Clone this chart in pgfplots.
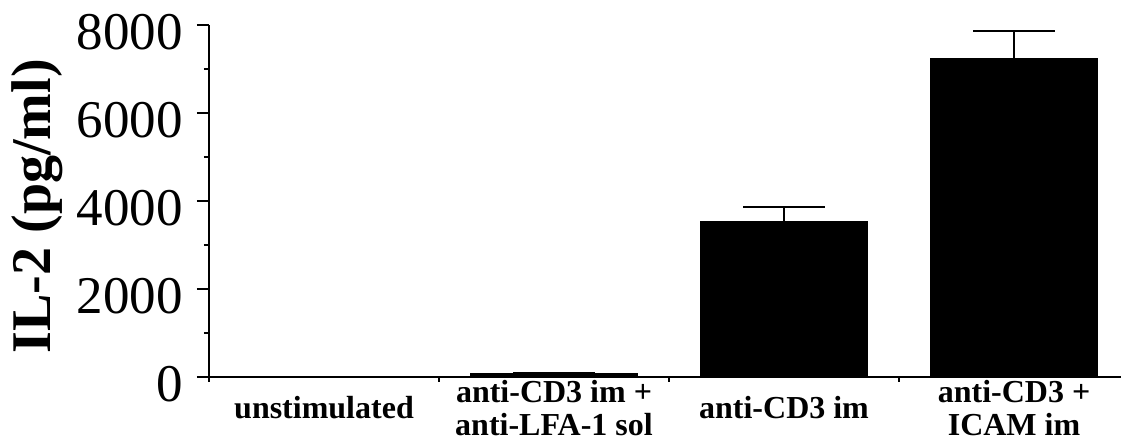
\documentclass[border=0pt]{standalone}
\usepackage{fontspec}
\setmainfont{Liberation Serif}
\usepackage{pgfplots}
\pgfplotsset{compat=1.18}
\begin{document}
\begin{tikzpicture}
\begin{axis}[
  at={(0pt,0pt)}, anchor=south west,
  scale only axis, width=912pt, height=352pt,
  xmin=-0.5, xmax=3.465, ymin=0, ymax=8000,
  axis lines*=left,
  axis line style={line width=2.5pt},
  xtick={0,1,2,3},
  xticklabels={unstimulated,{anti-CD3 im +\\anti-LFA-1 sol},anti-CD3 im,{anti-CD3 +\\ICAM im}},
  minor xtick={-0.5,0.5,1.5,2.5},
  major x tick style={draw=none},
  ytick={0,2000,4000,6000,8000},
  minor ytick={1000,3000,5000,7000},
  tick align=outside,
  major tick length=12pt, minor tick length=5pt,
  every tick/.style={line width=2pt, black},
  /pgf/number format/assume math mode=true,
  scaled y ticks=false,
  yticklabel={\pgfmathprintnumber[fixed,1000 sep={}]{\tick}},
  yticklabel style={font=\fontsize{53}{53}\selectfont, inner sep=0pt, xshift=-14pt, yshift=-7pt},
  xticklabel style={font=\fontsize{32}{33}\selectfont\bfseries, align=center, anchor=center, inner sep=0pt, yshift=-19pt},
  ylabel={IL-2 (pg/ml)},
  ylabel style={font=\fontsize{56}{56}\selectfont\bfseries, at={(axis description cs:-0.1886,0.485)}, anchor=center},
  ybar, bar width=167pt,
]
\addplot[fill=black, draw=black,
  error bars/.cd, y dir=plus, y explicit,
  error bar style={line width=2pt, black},
  error mark options={rotate=90, mark size=41pt, line width=2pt, black}]
  coordinates {(0,0) +- (0,0) (1,85) +- (0,0) (2,3545) +- (0,325) (3,7243) +- (0,627)};
\end{axis}
\pgfresetboundingbox
\path (-209pt,-64pt) rectangle (912pt,377pt);
\end{tikzpicture}
\end{document}
